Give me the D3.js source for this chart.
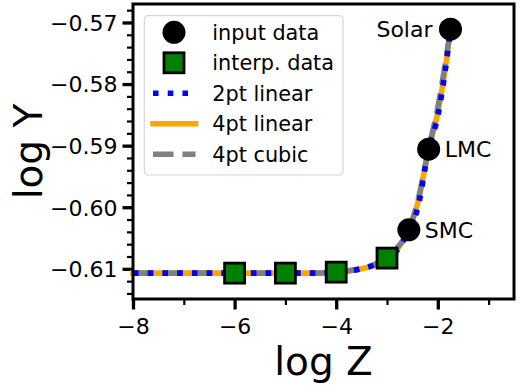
<!DOCTYPE html>
<html>
<head>
<meta charset="utf-8">
<script src="https://cdn.jsdelivr.net/npm/d3@7"></script>
<style>
  body { margin: 0; background: #fff; }
  text { font-family: "DejaVu Sans", sans-serif; fill: #000; }
</style>
</head>
<body>
<div id="chart"></div>
<script>
// input points (log Z, log Y) and their names
const inputZ = [-2.57, -2.18, -1.75]
const inputY = [-0.60367, -0.59057, -0.57109]
const inputNames = ["SMC", "LMC", "Solar"]

// interpolated points
const interpZ = [-6, -5, -4, -3]
const interpY = [-0.6107, -0.6107, -0.61054, -0.60826]

// model curves
const curveZ   = [-8, -6, -5, -4.5, -4, -3.75, -3.5, -3.25, -3, -2.8, -2.57, -2.4, -2.18, -2.0, -1.85, -1.75]
const lin2ptY  = [-0.6107, -0.6107, -0.6107, -0.6107, -0.61054, -0.61034, -0.6100, -0.60937, -0.60826, -0.6070, -0.60367, -0.6003, -0.59057, -0.5852, -0.5776, -0.57109]
const lin4ptY  = [-0.6107, -0.6107, -0.6107, -0.6107, -0.61054, -0.61034, -0.6100, -0.60937, -0.60826, -0.60677, -0.60367, -0.5995, -0.59057, -0.5846, -0.5773, -0.57109]
const cubic4ptY = [-0.6107, -0.6107, -0.6107, -0.6107, -0.61054, -0.61030, -0.6099, -0.60930, -0.60826, -0.6066, -0.60367, -0.5992, -0.59057, -0.5838, -0.5765, -0.57109]

const legendLabels = ["input data", "interp. data", "2pt linear", "4pt linear", "4pt cubic"]
const xTicks = [-8, -6, -4, -2]
const yTicks = [-0.61, -0.60, -0.59, -0.58, -0.57]

const width = 520, height = 385
const plot = { left: 133, right: 514, top: 4, bottom: 299 }
const lw = 5.56

const svg = d3.select("#chart").append("svg")
    .attr("width", width)
    .attr("height", height)

const x = d3.scaleLinear().domain([-8, -0.5]).range([plot.left, plot.right])
const y = d3.scaleLinear().domain([-0.6149, -0.567]).range([plot.bottom, plot.top])

// axes
const xAxis = svg.append("g")
    .attr("transform", "translate(0," + plot.bottom + ")")
    .call(d3.axisBottom(x).tickValues(xTicks).tickSize(10.5).tickPadding(4)
        .tickFormat(d => d3.format("d")(d).replace("-", "\u2212")))
const xMinor = svg.append("g")
    .attr("transform", "translate(0," + plot.bottom + ")")
    .call(d3.axisBottom(x).tickValues(d3.range(-7, 0, 2)).tickSize(6).tickFormat(""))

const yAxis = svg.append("g")
    .attr("transform", "translate(" + plot.left + ",0)")
    .call(d3.axisLeft(y).tickValues(yTicks).tickSize(10.5).tickPadding(5)
        .tickFormat(d => d3.format(".2f")(d).replace("-", "\u2212")))
const yMinor = svg.append("g")
    .attr("transform", "translate(" + plot.left + ",0)")
    .call(d3.axisLeft(y).tickValues(d3.range(-0.614, -0.567, 0.002)).tickSize(6).tickFormat(""))

for (const g of [xAxis, xMinor, yAxis, yMinor]) {
    g.select(".domain").remove()
    g.selectAll("text").style("font-size", "22px").attr("fill", "#000")
}
xAxis.selectAll(".tick line").attr("stroke-width", 3.3)
yAxis.selectAll(".tick line").attr("stroke-width", 3.3)
xMinor.selectAll(".tick line").attr("stroke-width", 2.2)
yMinor.selectAll(".tick line").attr("stroke-width", 2.2)
xAxis.selectAll("text").attr("dy", "0.95em")
yAxis.selectAll("text").attr("dy", "0.36em")

// axis labels
svg.append("text")
    .attr("x", (plot.left + plot.right) / 2)
    .attr("y", 375)
    .attr("text-anchor", "middle")
    .style("font-size", "39px")
    .text("log Z")
svg.append("text")
    .attr("transform", "translate(42," + ((plot.top + plot.bottom) / 2) + ") rotate(-90)")
    .attr("text-anchor", "middle")
    .style("font-size", "39px")
    .text("log Y")

// curves
const line = d3.line().x(d => x(d[0])).y(d => y(d[1])).curve(d3.curveMonotoneX)
const series = [
    { vals: lin4ptY, color: "orange", dash: null, cap: "square" },
    { vals: cubic4ptY, color: "gray", dash: [3.7 * lw, 1.6 * lw], cap: "butt" },
    { vals: lin2ptY, color: "blue", dash: [lw, 1.65 * lw], cap: "butt" }
]
for (const s of series) {
    svg.append("path")
        .datum(curveZ.map((z, i) => [z, s.vals[i]]))
        .attr("d", line)
        .attr("fill", "none")
        .attr("stroke", s.color)
        .attr("stroke-width", lw)
        .attr("stroke-linecap", s.cap)
        .attr("stroke-dasharray", s.dash ? s.dash.join(",") : null)
}

// interp squares
svg.selectAll(".interp")
    .data(interpZ.map((z, i) => [z, interpY[i]]))
    .join("rect")
    .attr("class", "interp")
    .attr("x", d => x(d[0]) - 10)
    .attr("y", d => y(d[1]) - 10)
    .attr("width", 20)
    .attr("height", 20)
    .attr("fill", "green")
    .attr("stroke", "#000")
    .attr("stroke-width", 2.8)

// input circles + names
svg.selectAll(".input")
    .data(inputZ.map((z, i) => [z, inputY[i]]))
    .join("circle")
    .attr("class", "input")
    .attr("cx", d => x(d[0]))
    .attr("cy", d => y(d[1]))
    .attr("r", 11.5)
    .attr("fill", "#000")

const labelOffset = { SMC: [16, "start"], LMC: [16, "start"], Solar: [-18, "end"] }
svg.selectAll(".name")
    .data(inputNames)
    .join("text")
    .attr("x", (d, i) => x(inputZ[i]) + labelOffset[d][0])
    .attr("y", (d, i) => y(inputY[i]))
    .attr("dy", "0.36em")
    .attr("text-anchor", d => labelOffset[d][1])
    .style("font-size", "22px")
    .text(d => d)

// frame
svg.append("rect")
    .attr("x", plot.left)
    .attr("y", plot.top)
    .attr("width", plot.right - plot.left)
    .attr("height", plot.bottom - plot.top)
    .attr("fill", "none")
    .attr("stroke", "#000")
    .attr("stroke-width", 3)

// legend
const leg = svg.append("g")
leg.append("rect")
    .attr("x", 144.3).attr("y", 15.7)
    .attr("width", 198.7).attr("height", 159.3)
    .attr("rx", 4)
    .attr("fill", "#fff").attr("fill-opacity", 0.8)
    .attr("stroke", "#d6d6d6").attr("stroke-width", 1.2)

const rowY = i => 32.3 + i * 30.5
const hx = 174
leg.append("circle").attr("cx", hx).attr("cy", rowY(0)).attr("r", 11.5).attr("fill", "#000")
leg.append("rect").attr("x", hx - 10).attr("y", rowY(1) - 10).attr("width", 20).attr("height", 20)
    .attr("fill", "green").attr("stroke", "#000").attr("stroke-width", 2.8)
const legLines = [series[2], series[0], series[1]]
legLines.forEach((s, k) => {
    leg.append("line")
        .attr("x1", 153).attr("x2", 195.5)
        .attr("y1", rowY(k + 2)).attr("y2", rowY(k + 2))
        .attr("stroke", s.color)
        .attr("stroke-width", lw)
        .attr("stroke-linecap", s.cap)
        .attr("stroke-dasharray", s.dash ? s.dash.join(",") : null)
})
leg.selectAll(".lab")
    .data(legendLabels)
    .join("text")
    .attr("x", 212.3)
    .attr("y", (d, i) => rowY(i))
    .attr("dy", "0.36em")
    .style("font-size", "20.8px")
    .text(d => d)
</script>
</body>
</html>
